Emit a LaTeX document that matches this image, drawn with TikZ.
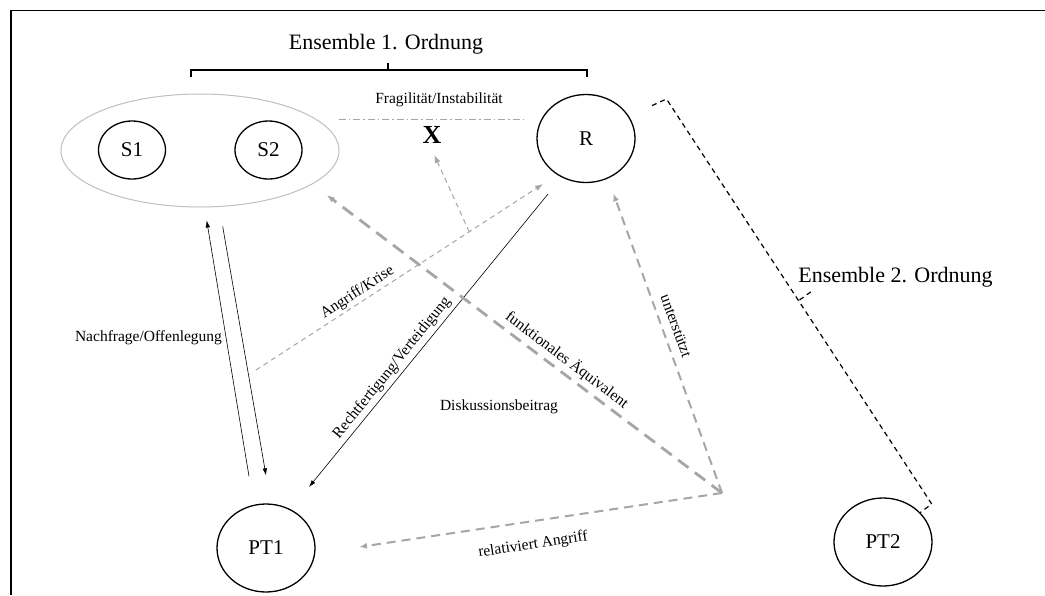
\documentclass[tikz,border=0pt]{standalone}
\usepackage{fontspec}
\setmainfont{Liberation Serif}
\usetikzlibrary{shapes.geometric,arrows.meta,calc}
\definecolor{lgray}{HTML}{BFBFBF}
\definecolor{dgray}{HTML}{A6A6A6}

\begin{document}
\begin{tikzpicture}[x=1pt,y=-1pt,
  big/.style={font=\fontsize{21}{25}\selectfont},
  title/.style={font=\fontsize{22}{26}\selectfont},
  small/.style={font=\fontsize{15.5}{18}\selectfont},
  actor/.style={draw,ellipse,line width=1.3pt,minimum width=98pt,minimum height=88pt,inner sep=0pt,big},
  sub/.style={draw,ellipse,line width=1.3pt,minimum width=67pt,minimum height=58pt,inner sep=0pt,big},
  ensemble/.style={draw=lgray,ellipse,line width=1pt,minimum width=278pt,minimum height=113pt,inner sep=0pt},
  thinarrow/.style={-{Latex[length=7pt,width=4.5pt]},line width=0.6pt,black},
  grayhead/.style={-{Latex[length=8pt,width=6pt]}},
  lightdash/.style={dgray,line width=1pt,dash pattern=on 5pt off 4pt},
  middash/.style={dgray,line width=2pt,dash pattern=on 9pt off 6pt},
  heavydash/.style={dgray,line width=2.8pt,dash pattern=on 13pt off 8pt},
  bracket/.style={black,line width=1.2pt,dash pattern=on 5pt off 4pt},
]
\useasboundingbox (0,0) rectangle (1045,595);

% frame
\draw[line width=1.5pt] (11,595) -- (11,10.5) -- (1045,10.5);

% first-order ensemble
\node[title] (e1) at (386,44) {Ensemble 1. Ordnung};
\draw[line width=1.1pt] (191,77) -- (191,70) -- (587,70) -- (587,77);
\draw[line width=1.1pt] (388,70) -- (388,63);

\node[ensemble] (Sens) at (200,150.5) {};
\node[sub] (S1) at (132,150) {S1};
\node[sub] (S2) at (268.5,150) {S2};
\node[actor] (R) at (586,138.5) {R};
\node[actor] (PT1) at (266,548) {PT1};
\node[actor] (PT2) at (883,542) {PT2};
\node[font=\bfseries\fontsize{26}{30}\selectfont,inner sep=1pt] (X) at (432,135) {X};

% fragility line
\draw[dgray,line width=1pt,dash pattern=on 7pt off 3pt on 1.5pt off 3pt]
  ($(Sens.east)+(-1,-31.5)$) -- ($(R.west)+(-10,-19.5)$);
\node[small] (frag) at (439,100) {Fragilität/Instabilität};

% second-order ensemble bracket
\draw[bracket] (652,105.6) -- (666.5,99) -- (931.7,504) -- (920,512.7);
\draw[bracket] (799.5,300) -- (812.7,290.5);
\node[title] (e2) at (895.5,277) {Ensemble 2. Ordnung};

% request / disclosure
\draw[thinarrow] ($(PT1.north)+(-17,-27)$) -- ($(Sens.south)+(6.7,13)$);
\draw[thinarrow] ($(Sens.south)+(22.7,19)$) -- ($(PT1.north)+(0,-28)$);
\node[small] (nach) at (148.5,338) {Nachfrage/Offenlegung};

% justification / defence
\draw[thinarrow] ($(R)+(-38,55.5)$) -- ($(PT1)+(43,-61)$);
\node[small,rotate=51] (recht) at (392,368) {Rechtfertigung/Verteidigung};

% attack / crisis
\coordinate (kstart) at (256,370);
\coordinate (kend) at ($(R)+(-43,45.5)$);
\draw[lightdash,grayhead] (kstart) -- (kend);
\coordinate (kfork) at ($(kstart)!0.743!(kend)$);
\draw[lightdash,grayhead] (kfork) -- ($(X)+(2.3,20)$);
\node[small,rotate=33] (angr) at (357.5,292.5) {Angriff/Krise};

% contribution to the discussion
\coordinate (apex) at (722,493);
\draw[heavydash,grayhead] (apex) -- ($(Sens)+(126.7,44.5)$);
\draw[middash,grayhead] (apex) -- ($(R)+(27.3,54.8)$);
\draw[middash,grayhead] (apex) -- ($(PT1)+(93,-1)$);
\node[small,rotate=-37] (funk) at (567,360) {funktionales Äquivalent};
\node[small,rotate=-70] (unt) at (676,326) {unterstützt};
\node[small] (disk) at (499,407) {Diskussionsbeitrag};
\node[small,rotate=8.6] (rel) at (533,545) {relativiert Angriff};
\end{tikzpicture}
\end{document}
